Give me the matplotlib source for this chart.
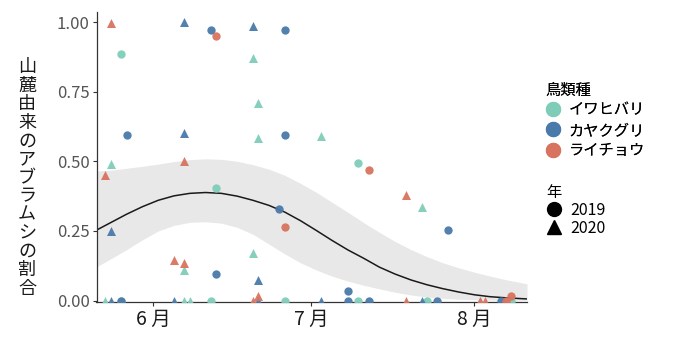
import matplotlib
matplotlib.use('Agg')
import matplotlib.pyplot as plt
import matplotlib.dates as mdates
from matplotlib.lines import Line2D
import pandas as pd

plt.rcParams['font.family'] = ['Noto Sans CJK JP', 'DejaVu Sans']

# observations: species, year, date (MM-DD), proportion from the foothills
species = ['R', 'K', 'K', 'R', 'K', 'K', 'I', 'I', 'I', 'K',
           'K', 'I', 'K', 'I', 'R', 'I', 'I', 'R', 'R', 'I',
           'K', 'R', 'K', 'R', 'R', 'I', 'I', 'K', 'K', 'R',
           'R', 'I', 'K', 'K',
           'I', 'K', 'I', 'K', 'K', 'I', 'I', 'I', 'R', 'K',
           'I', 'K', 'K', 'I', 'K', 'R', 'K', 'I', 'K', 'I',
           'R', 'R', 'K', 'R', 'I', 'R']
years = [2020, 2020, 2019, 2019, 2020, 2019, 2019, 2020, 2020, 2019,
         2020, 2020, 2019, 2020, 2020, 2020, 2019, 2019, 2020, 2019,
         2019, 2019, 2020, 2020, 2020, 2020, 2020, 2019, 2020, 2020,
         2020, 2020, 2019, 2019,
         2020, 2020, 2019, 2019, 2020, 2020, 2020, 2019, 2020, 2020,
         2019, 2020, 2019, 2019, 2019, 2020, 2020, 2019, 2019, 2020,
         2020, 2020, 2019, 2019, 2019, 2019]
dates = ['05-24', '06-07', '06-12', '06-13', '06-20', '06-26', '05-26', '06-20', '06-21', '05-27',
         '06-07', '06-21', '06-26', '05-24', '06-07', '07-03', '07-10', '07-12', '05-23', '06-13',
         '06-25', '06-26', '05-24', '06-05', '06-07', '06-07', '06-20', '06-13', '06-21', '06-21',
         '07-19', '07-22', '07-27', '07-08',
         '05-23', '05-24', '05-26', '05-26', '06-05', '06-07', '06-08', '06-12', '06-20', '06-21',
         '06-26', '07-03', '07-08', '07-10', '07-12', '07-19', '07-22', '07-23', '07-25', '08-02',
         '08-02', '08-03', '08-06', '08-07', '08-08', '08-08']
ratio = [0.995, 1.0, 0.97, 0.95, 0.985, 0.97, 0.885, 0.87, 0.71, 0.595,
         0.60, 0.585, 0.595, 0.49, 0.50, 0.59, 0.495, 0.47, 0.45, 0.405,
         0.33, 0.265, 0.25, 0.145, 0.135, 0.11, 0.17, 0.095, 0.075, 0.018,
         0.38, 0.335, 0.255, 0.033,
         0.0, 0.0, 0.0, 0.0, 0.0, 0.0, 0.0, 0.0, 0.0, 0.0,
         0.0, 0.0, 0.0, 0.0, 0.0, 0.0, 0.0, 0.0, 0.0, 0.0,
         0.0, 0.0, 0.0, 0.0, 0.0, 0.017]

# fitted curve and confidence band
fit_dates = ['05-21', '05-24', '05-27', '05-30', '06-02', '06-05', '06-08', '06-11',
             '06-14', '06-17', '06-20', '06-23', '06-26', '06-29', '07-02', '07-05',
             '07-08', '07-11', '07-14', '07-17', '07-20', '07-23', '07-26', '07-29',
             '08-01', '08-04', '08-07', '08-11']
fit = [0.250, 0.280, 0.310, 0.337, 0.360, 0.376, 0.385, 0.388,
       0.385, 0.375, 0.360, 0.342, 0.318, 0.287, 0.252, 0.216,
       0.182, 0.152, 0.120, 0.095, 0.074, 0.057, 0.043, 0.031,
       0.021, 0.014, 0.010, 0.006]
fit_upper = [0.465, 0.468, 0.475, 0.482, 0.490, 0.499, 0.506, 0.509,
             0.507, 0.500, 0.488, 0.472, 0.450, 0.421, 0.389, 0.353,
             0.317, 0.280, 0.245, 0.212, 0.183, 0.158, 0.136, 0.118,
             0.102, 0.088, 0.075, 0.060]
fit_lower = [0.118, 0.150, 0.183, 0.218, 0.250, 0.270, 0.281, 0.283,
             0.278, 0.263, 0.238, 0.203, 0.168, 0.136, 0.110, 0.088,
             0.070, 0.055, 0.042, 0.030, 0.020, 0.013, 0.008, 0.005,
             0.003, 0.002, 0.001, 0.001]

species_names = {'I': 'イワヒバリ', 'K': 'カヤクグリ', 'R': 'ライチョウ'}
species_colors = {'I': '#7fcdb9', 'K': '#4a7aaa', 'R': '#d8735f'}
year_markers = {2019: 'o', 2020: '^'}


def to_num(md):
    return mdates.date2num(pd.to_datetime('2021-' + pd.Series(md)))


df = pd.DataFrame({'sp': species, 'year': years, 'x': to_num(dates), 'y': ratio})
fx = to_num(fit_dates)

fig = plt.figure(figsize=(6.82, 3.47), dpi=100)
ax = fig.add_axes([96.5 / 682, 45 / 347, (527 - 96.5) / 682, (302 - 12) / 347])

ax.fill_between(fx, fit_lower, fit_upper, color='#e8e8e8', lw=0, zorder=1)
ax.plot(fx, fit, color='#1a1a1a', lw=1.1, zorder=2)

for (sp, yr), g in df.groupby(['sp', 'year']):
    ax.scatter(g['x'], g['y'], s=36 if yr == 2019 else 42, marker=year_markers[yr],
               color=species_colors[sp], lw=0, alpha=0.95, zorder=3)

x0 = to_num(['06-01'])[0]
ax.set_xlim(x0 - 10.7, x0 + 71.0)
ax.set_ylim(-0.005, 1.036)

ax.set_xticks(to_num(['06-01', '07-01', '08-01']))
ax.set_xticklabels(['6 月', '7 月', '8 月'], fontsize=14, color='#1a1a1a')
ax.set_yticks([0, 0.25, 0.5, 0.75, 1.0])
ax.set_yticklabels(['0.00', '0.25', '0.50', '0.75', '1.00'], fontsize=12, color='#555555')
ax.tick_params(axis='both', length=3, width=0.8, color='#333333', pad=2)

for side in ['top', 'right']:
    ax.spines[side].set_visible(False)
for side in ['left', 'bottom']:
    ax.spines[side].set_color('#333333')
    ax.spines[side].set_linewidth(0.9)

fig.text(27 / 682, 1 - 178 / 347, '\n'.join('山麓由来のアブラムシの割合'),
         ha='center', va='center', fontsize=13, linespacing=1.03, color='#1a1a1a')

sp_handles = [Line2D([], [], marker='o', ls='', markersize=10, color=species_colors[k],
                     label=species_names[k]) for k in ['I', 'K', 'R']]
leg1 = fig.legend(handles=sp_handles, title='鳥類種', loc='upper left',
                  bbox_to_anchor=(535 / 682, 1 - 71 / 347), frameon=False,
                  fontsize=11, title_fontsize=11, alignment='left',
                  handlelength=1.0, handletextpad=0.5, labelspacing=0.2,
                  borderpad=0.2)
fig.add_artist(leg1)

yr_handles = [Line2D([], [], marker=year_markers[y], ls='', markersize=10, color='black',
                     label=str(y)) for y in [2019, 2020]]
fig.legend(handles=yr_handles, title='年', loc='upper left',
           bbox_to_anchor=(535 / 682, 1 - 173 / 347), frameon=False,
           fontsize=11.5, title_fontsize=11, alignment='left',
           handlelength=1.0, handletextpad=0.5, labelspacing=0.05,
           borderpad=0.2)

fig.savefig('out.png', dpi=100)
